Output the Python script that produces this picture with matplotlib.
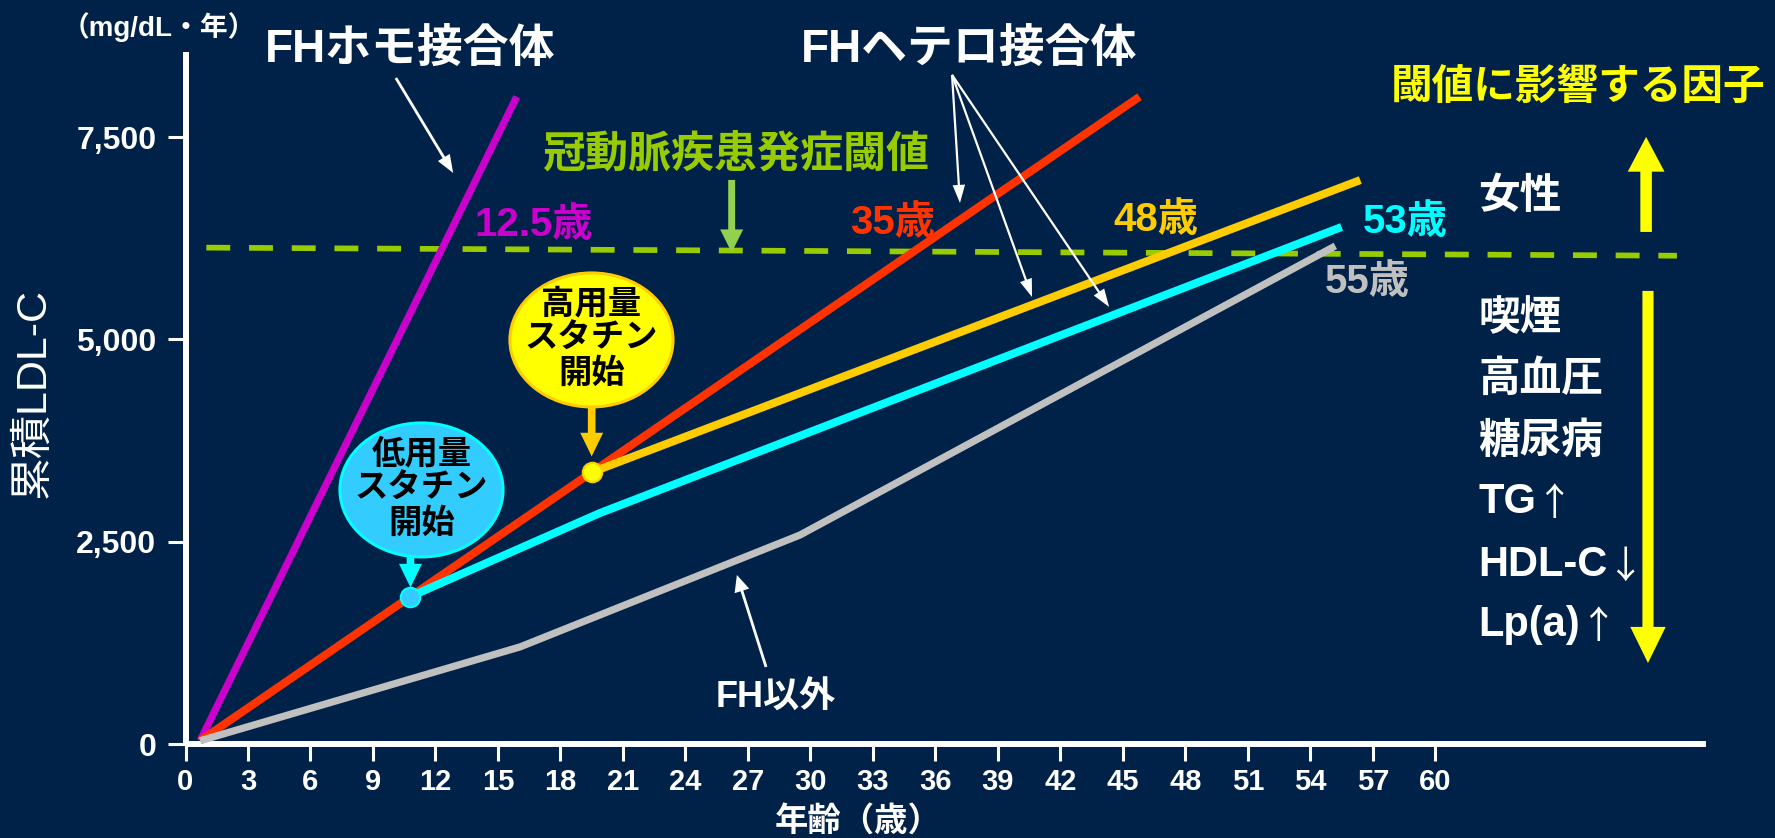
import numpy as np
import matplotlib
matplotlib.use("Agg")
import matplotlib.pyplot as plt
from matplotlib.patches import Ellipse
from matplotlib.ticker import FuncFormatter

plt.rcParams['font.family'] = ['Liberation Sans', 'Noto Sans CJK JP']

# ---------------- data ----------------
# cumulative LDL-C (mg/dL*year) by age (years)
homo_age = [0.7, 15.9]
homo_ldl = [40, 8000]

hetero_age = [0.7, 45.8]
hetero_ldl = [40, 8000]

low_statin_start = 10.8
low_statin_age = [19.9, 55.5]
low_statin_ldl = [2855, 6390]

high_statin_start = 19.5
high_statin_age = [56.4]
high_statin_ldl = [6970]

non_fh_age = [0.7, 16.06, 29.5, 55.2]
non_fh_ldl = [40, 1200, 2583, 6156]

threshold_age = [1.0, 71.6]
threshold_ldl = [6135, 6035]

x_ticks = list(range(0, 61, 3))
y_ticks = [0, 2500, 5000, 7500]

onset_labels = ["12.5歳", "35歳", "48歳", "53歳", "55歳"]
factor_labels = ["喫煙", "高血圧", "糖尿病"]
lipid_labels = [("TG", "↑"), ("HDL-C", "↓"), ("Lp(a)", "↑")]

# ---------------- colours ----------------
BG = "#002248"
PURPLE = "#CC00CC"
RED = "#FF3300"
ORANGE = "#FFCC00"
CYAN = "#00FFFF"
GRAY = "#C0C0C0"
GREEN = "#99CC00"
LGREEN = "#92D050"
YELLOW = "#FFFF00"
WHITE = "#FFFFFF"

fig = plt.figure(figsize=(17.75, 8.38), dpi=100)
fig.patch.set_facecolor(BG)
ax = fig.add_axes([185.5 / 1775, 94 / 838, 1520.6 / 1775, 692 / 838])
ax.set_facecolor(BG)
ax.set_xlim(0, 73)
ax.set_ylim(0, 8553)

# axes styling
for side in ("top", "right"):
    ax.spines[side].set_visible(False)
for side in ("left", "bottom"):
    ax.spines[side].set_color(WHITE)
    ax.spines[side].set_linewidth(4.3)
    ax.spines[side].set_capstyle("butt")

ax.set_xticks(x_ticks)
ax.set_yticks(y_ticks)
ax.yaxis.set_major_formatter(FuncFormatter(lambda v, p: f"{int(v):,}"))
ax.tick_params(axis="x", colors=WHITE, length=12, width=2.2, pad=5)
ax.tick_params(axis="y", colors=WHITE, length=13, width=2.2, pad=8)
for lab in ax.get_xticklabels():
    lab.set_fontfamily(['Liberation Sans Narrow', 'Liberation Sans'])
    lab.set_fontweight("bold")
    lab.set_fontsize(21)
for lab in ax.get_yticklabels():
    lab.set_fontweight("bold")
    lab.set_fontsize(23)

ax.set_xlabel("年齢（歳）", color=WHITE, fontsize=24, fontweight="bold", va="center", ha="center")
ax.xaxis.set_label_coords(0.4423, -0.1141)
ax.set_ylabel("累積LDL-C", color=WHITE, fontsize=31, fontweight="normal", va="center", ha="center")
ax.yaxis.set_label_coords(-0.1, 0.5072)

# ---------------- lines ----------------
LW = 5.8
low_y0 = float(np.interp(low_statin_start, hetero_age, hetero_ldl))
high_y0 = float(np.interp(high_statin_start, hetero_age, hetero_ldl))

ax.plot(threshold_age, threshold_ldl, color=GREEN, lw=4.1, dashes=(4.2, 3.3),
        dash_capstyle="butt", zorder=1)
ax.plot(homo_age, homo_ldl, color=PURPLE, lw=5.2, solid_capstyle="butt", zorder=2)
ax.plot(hetero_age, hetero_ldl, color=RED, lw=LW, solid_capstyle="butt", zorder=3)
ax.plot(non_fh_age, non_fh_ldl, color=GRAY, lw=5.2, solid_capstyle="butt",
        solid_joinstyle="round", zorder=4)
ax.plot([low_statin_start] + low_statin_age, [low_y0] + low_statin_ldl, color=CYAN,
        lw=LW, solid_capstyle="butt", solid_joinstyle="round", zorder=4)
ax.plot([high_statin_start] + high_statin_age, [high_y0] + high_statin_ldl, color=ORANGE,
        lw=LW, solid_capstyle="butt", zorder=4)

ax.plot([low_statin_start], [low_y0], "o", ms=14, mfc="#33CCFF", mec=CYAN, mew=1.5, zorder=6)
ax.plot([high_statin_start], [high_y0], "o", ms=14, mfc=YELLOW, mec=ORANGE, mew=1.5, zorder=6)


def arrow(x0, y0, x1, y1, color, width, headwidth, headlength, z=5):
    ax.annotate("", xy=(x1, y1), xytext=(x0, y0), annotation_clip=False,
                arrowprops=dict(width=width, headwidth=headwidth, headlength=headlength,
                                facecolor=color, edgecolor=color, lw=0, shrink=0),
                zorder=z)


def txt(x, y, s, color=WHITE, size=30, weight="bold", ha="center", va="center", **kw):
    return ax.text(x, y, s, color=color, fontsize=size, fontweight=weight,
                   ha=ha, va=va, **kw)


# ---------------- statin bubbles ----------------
ax.add_patch(Ellipse((11.33, 3140), 7.83, 1656, facecolor="#33CCFF", edgecolor=CYAN,
                     lw=2.2, zorder=7))
txt(11.33, 3150, "低用量\nスタチン\n開始", color="black", size=24, zorder=8, linespacing=1.15)
arrow(low_statin_start, 2311, low_statin_start, 1935, CYAN, 5.5, 16.5, 17, z=7)

ax.add_patch(Ellipse((19.49, 4994), 7.83, 1656, facecolor=YELLOW, edgecolor=ORANGE,
                     lw=2.2, zorder=7))
txt(19.49, 5004, "高用量\nスタチン\n開始", color="black", size=24, zorder=8, linespacing=1.15)
arrow(high_statin_start, 4166, high_statin_start, 3555, ORANGE, 5.5, 16.5, 17, z=7)

# ---------------- annotations ----------------
txt(-1.3, 8860, "（mg/dL・年）", size=20)
txt(10.8, 8565, "FHホモ接合体", size=33)
arrow(10.1, 8232, 12.85, 7058, WHITE, 2.0, 10, 13)

txt(37.6, 8565, "FHヘテロ接合体", size=33)
for tx, ty in [(37.18, 6687), (40.64, 5525), (44.34, 5402)]:
    arrow(36.8, 8270, tx, ty, WHITE, 1.6, 9, 13)

txt(26.4, 7280, "冠動脈疾患発症閾値", color=GREEN, size=31)
arrow(26.22, 6972, 26.22, 6075, LGREEN, 5, 16.6, 16.6)

onset_pos = [(16.73, 6420), (33.92, 6440), (46.59, 6477), (58.55, 6452), (56.73, 5711)]
onset_colors = [PURPLE, RED, ORANGE, CYAN, GRAY]
for (x, y), s, c in zip(onset_pos, onset_labels, onset_colors):
    txt(x, y, s, color=c, size=29)

txt(28.35, 569, "FH以外", size=26)
arrow(27.87, 952, 26.47, 2089, WHITE, 2.0, 11, 12)

# factors affecting the threshold
txt(66.83, 8109, "閾値に影響する因子", color=YELLOW, size=30)
arrow(70.12, 6329, 70.12, 7503, YELLOW, 8.3, 26.5, 25)
txt(62.05, 6761, "女性", ha="left", size=30)
arrow(70.21, 5600, 70.21, 1001, YELLOW, 8.0, 25.5, 26)

factor_y = [5253, 4499, 3733]
for y, s in zip(factor_y, factor_labels):
    txt(62.05, y, s, ha="left", size=30)

lipid_y = [2991, 2213, 1471]
for y, (s, a) in zip(lipid_y, lipid_labels):
    t = txt(62.05, y, s, ha="left", size=30)
    ax.annotate(a, xy=(1, 0.5), xycoords=t, xytext=(0, -2), textcoords="offset points",
                ha="left", va="center", color=WHITE, fontsize=27, fontweight="normal",
                family=['Noto Sans CJK JP', 'DejaVu Sans'], annotation_clip=False)

fig.savefig("out.png", dpi=100, facecolor=BG)
